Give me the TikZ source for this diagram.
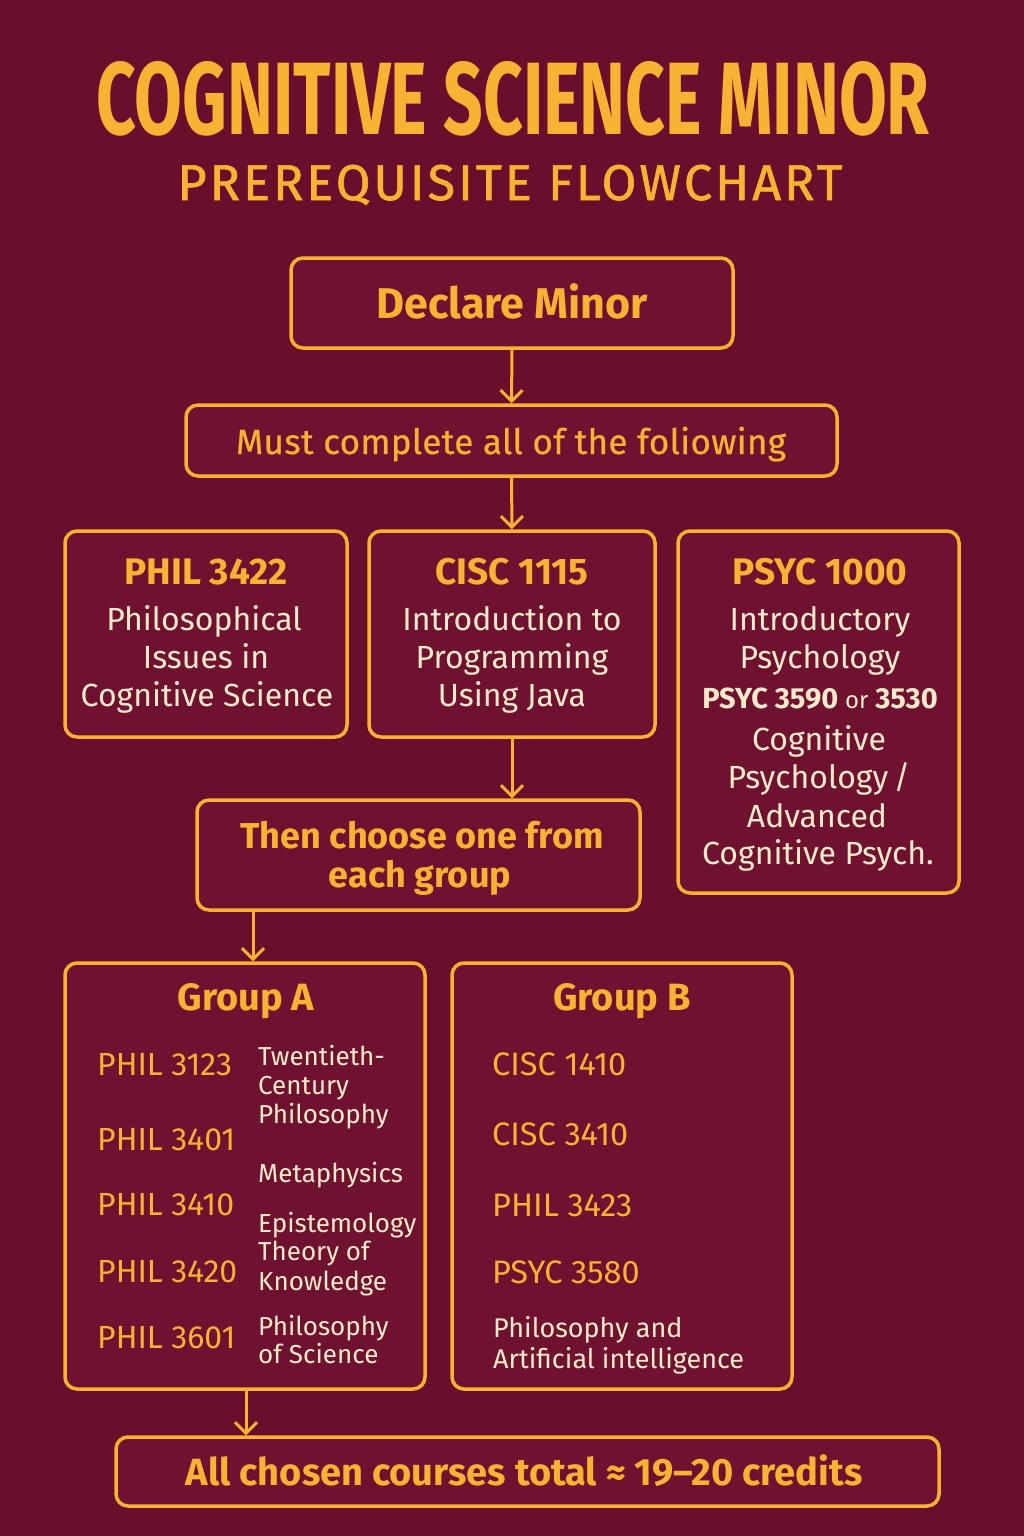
\documentclass[tikz,border=0pt]{standalone}
\usepackage{fontspec}
\usepackage{graphicx}
\usetikzlibrary{arrows.meta,calc}
\setmainfont{Fira Sans}
\definecolor{bg}{HTML}{6A0F2B}
\definecolor{gold}{HTML}{F9B233}
\definecolor{cream}{HTML}{FBEBCB}
\definecolor{boxfill}{HTML}{6F1230}
\newcommand{\fsz}[1]{\fontsize{#1}{#1}\selectfont}
\tikzset{
  x=1pt, y=-1pt,
  box/.style={draw=gold, line width=3.5pt, rounded corners=12pt, fill=boxfill, inner sep=0pt},
  tx/.style={anchor=base, inner sep=0pt, text=gold},
  tl/.style={anchor=base west, inner sep=0pt, text=gold},
  cr/.style={anchor=base, inner sep=0pt, text=cream},
  crl/.style={anchor=base west, inner sep=0pt, text=cream},
  arr/.style={draw=gold, line width=3pt, -{Straight Barb[length=11pt,width=22pt,line width=3pt]}}
}
\begin{document}
\begin{tikzpicture}
\fill[bg] (0,0) rectangle (1024,1536);
\useasboundingbox (0,0) rectangle (1024,1536);

% title
\node[tx] (title) at (513,135) {\resizebox{833pt}{73pt}{\bfseries COGNITIVE SCIENCE MINOR}};
\node[tx] (subtitle) at (510,200) {\resizebox{665pt}{!}{\addfontfeatures{LetterSpace=6,FakeBold=1.2}\fsz{40}PREREQUISITE FLOWCHART}};

% boxes
\node[box, minimum width=442pt, minimum height=90pt] (declare) at (512,303) {};
\node[box, minimum width=651pt, minimum height=71pt] (must) at (511.5,440.5) {};
\node[box, minimum width=282pt, minimum height=206pt] (phil) at (206,634) {};
\node[box, minimum width=286pt, minimum height=206pt] (cisc) at (512,634) {};
\node[box, minimum width=281pt, minimum height=362pt] (psyc) at (818.5,712) {};
\node[box, minimum width=443pt, minimum height=110pt] (choose) at (418.5,855) {};
\node[box, minimum width=360pt, minimum height=426pt] (groupA) at (245,1176) {};
\node[box, minimum width=340pt, minimum height=426pt] (groupB) at (622,1176) {};
\node[box, minimum width=823pt, minimum height=69pt] (bottom) at (527.5,1471.5) {};

% arrows
\draw[arr] (declare.south) -- (must.north);
\draw[arr] (must.south) -- (cisc.north);
\draw[arr] (cisc.south) -- (cisc.south |- choose.north);
\coordinate (ca) at (253,0);
\draw[arr] (choose.south -| ca) -- (ca |- groupA.north);
\coordinate (ab) at (246,0);
\draw[arr] (groupA.south -| ab) -- (ab |- bottom.north);

% texts
\node[tx] (tdeclare) at (512,318) {\fsz{43}\bfseries Declare Minor};
\node[tx] (tmust) at (511,454) {\fsz{35}\addfontfeatures{LetterSpace=1,FakeBold=0.6}Must complete all of the foliowing};

\node[tx] (tphil) at (206,584) {\fsz{37}\bfseries PHIL 3422};
\node[cr] (tphil1) at (204,630) {\fsz{32}Philosophical};
\node[cr] (tphil2) at (206,668) {\fsz{32}Issues in};
\node[cr] (tphil3) at (207,706) {\fsz{32}Cognitive Science};

\node[tx] (tcisc) at (512,584) {\fsz{37}\bfseries CISC 1115};
\node[cr] (tcisc1) at (512,630) {\fsz{32}Introduction to};
\node[cr] (tcisc2) at (512,668) {\fsz{32}Programming};
\node[cr] (tcisc3) at (512,706) {\fsz{32}Using Java};

\node[tx] (tpsyc) at (820,584) {\fsz{37}\bfseries PSYC 1000};
\node[cr] (tpsyc1) at (820,630) {\fsz{32}Introductory};
\node[cr] (tpsyc2) at (820,668) {\fsz{32}Psychology};
\node[cr] (tpsyc3) at (820,708) {\fsz{29}\bfseries PSYC 3590 {\mdseries\fsz{24}or} 3530};
\node[cr] (tpsyc4) at (819,750) {\fsz{32}Cognitive};
\node[cr] (tpsyc5) at (819,788) {\fsz{32}Psychology\,/};
\node[cr] (tpsyc6) at (817,827) {\fsz{32}Advanced};
\node[cr] (tpsyc7) at (818,864) {\fsz{32}Cognitive Psych.};

\node[tx] (tchoose1) at (422,848) {\fsz{36}\bfseries Then choose one from};
\node[tx] (tchoose2) at (420,887) {\fsz{36}\bfseries each group};

\node[tx] (tga) at (246,1010) {\fsz{38}\bfseries Group A};
\node[tl] (a1) at (97,1075) {\fsz{32}PHIL 3123};
\node[tl] (a2) at (97,1150) {\fsz{32}PHIL 3401};
\node[tl] (a3) at (97,1215) {\fsz{32}PHIL 3410};
\node[tl] (a4) at (97,1282) {\fsz{32}PHIL 3420};
\node[tl] (a5) at (97,1348) {\fsz{32}PHIL 3601};
\node[crl] (d1) at (258,1065) {\fsz{26}Twentieth-};
\node[crl] (d2) at (258,1094) {\fsz{26}Century};
\node[crl] (d3) at (258,1123) {\fsz{26}Philosophy};
\node[crl] (d4) at (258,1182) {\fsz{26}Metaphysics};
\node[crl] (d5) at (258,1232) {\fsz{26}Epistemology};
\node[crl] (d6) at (258,1260) {\fsz{26}Theory of};
\node[crl] (d7) at (258,1290) {\fsz{26}Knowledge};
\node[crl] (d8) at (258,1335) {\fsz{26}Philosophy};
\node[crl] (d9) at (258,1363) {\fsz{26}of Science};

\node[tx] (tgb) at (622,1010) {\fsz{38}\bfseries Group B};
\node[tl] (b1) at (492,1075) {\fsz{32.5}CISC 1410};
\node[tl] (b2) at (492,1145) {\fsz{32.5}CISC 3410};
\node[tl] (b3) at (492,1216) {\fsz{32.5}PHIL 3423};
\node[tl] (b4) at (492,1283) {\fsz{32.5}PSYC 3580};
\node[crl] (b5) at (493,1337) {\fsz{27}Philosophy and};
\node[crl] (b6) at (493,1368) {\fsz{27}Artificial intelligence};

\node[tx] (tbottom) at (524,1485) {\fsz{38}\bfseries All chosen courses total ≈ 19–20 credits};
\end{tikzpicture}
\end{document}
